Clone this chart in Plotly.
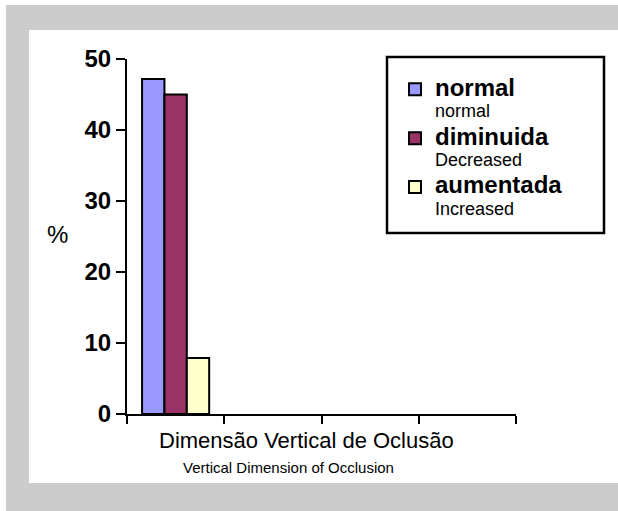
import plotly.graph_objects as go

# Data
series_names = ["normal", "diminuida", "aumentada"]
series_sub = ["normal", "Decreased", "Increased"]
series_values = [47.2, 45.0, 7.9]
series_colors = ["#9999ff", "#993366", "#ffffcc"]
category_index = [0]
y_ticks = [0, 10, 20, 30, 40, 50]
x_title = "Dimensão Vertical de Oclusão"
x_subtitle = "Vertical Dimension of Occlusion"
y_title = "%"

FONT = "Arial, Liberation Sans, sans-serif"

fig = go.Figure()
for i, (n, s, v, c) in enumerate(zip(series_names, series_sub, series_values, series_colors)):
    fig.add_trace(go.Bar(
        x=category_index, y=[v],
        name=(f"<span style='font-size:24px;font-weight:bold'>{n}</span>"
              f"<br><span style='font-size:18px'>{s}</span>"),
        marker=dict(color=c, line=dict(color="black", width=2)),
        legendgroup=f"g{i}",
    ))

W, H = 618, 511
L, R, T, B = 127, 102, 59, 97
pw, ph = W - L - R, H - T - B

def px(xp):
    return (xp - L) / pw

def py(yp):
    return (H - B - yp) / ph

GRAY = "#cccccc"
band = dict(type="rect", xref="paper", yref="paper", fillcolor=GRAY,
            line=dict(width=0), layer="below")
shapes = [
    dict(band, x0=px(6), x1=px(640), y0=py(30), y1=py(5)),      # top band
    dict(band, x0=px(6), x1=px(29), y0=py(483), y1=py(30)),     # left band
    dict(band, x0=px(6), x1=px(640), y0=py(530), y1=py(483)),   # bottom band
    # legend frame
    dict(type="rect", xref="paper", yref="paper", x0=px(387), x1=px(604), y0=py(233), y1=py(57),
         fillcolor="white", line=dict(color="black", width=2.5), layer="below"),
]

annotations = [
    dict(text=x_title, xref="paper", yref="paper", x=px(306), y=py(441), showarrow=False,
         font=dict(family=FONT, size=22, color="black"), xanchor="center", yanchor="middle"),
    dict(text=x_subtitle, xref="paper", yref="paper", x=px(288), y=py(467), showarrow=False,
         font=dict(family=FONT, size=15, color="black"), xanchor="center", yanchor="middle"),
    dict(text=y_title, xref="paper", yref="paper", x=px(57), y=py(234), showarrow=False,
         font=dict(family=FONT, size=24, color="black"), xanchor="center", yanchor="middle"),
]

fig.update_layout(
    width=W, height=H,
    margin=dict(l=L, r=R, t=T, b=B),
    paper_bgcolor="white",
    plot_bgcolor="rgba(0,0,0,0)",
    barmode="group", bargap=0.31, bargroupgap=0,
    shapes=shapes, annotations=annotations,
    font=dict(family=FONT, color="black"),
    showlegend=True,
    legend=dict(
        x=px(395), y=py(72), xanchor="left", yanchor="top",
        bgcolor="rgba(0,0,0,0)", borderwidth=0,
        font=dict(family=FONT, size=16.5, color="black"),
        valign="top", tracegroupgap=3,
    ),
    xaxis=dict(
        range=[-0.5, 3.5], tickvals=[-0.5, 0.5, 1.5, 2.5, 3.5], showticklabels=False,
        ticks="outside", ticklen=8, tickwidth=2, tickcolor="black",
        showline=True, linecolor="black", linewidth=2, showgrid=False, zeroline=False,
    ),
    yaxis=dict(
        range=[0, 50], tickvals=y_ticks, ticks="outside", ticklen=9, tickwidth=2,
        tickcolor="black", showline=True, linecolor="black", linewidth=2,
        showgrid=False, zeroline=False,
        tickfont=dict(family=FONT, size=24, color="black", weight="bold"),
    ),
)

fig.write_html("out.html", config={"displayModeBar": False},
               post_script=("document.documentElement.style.overflow='hidden';"
                            "document.body.style.margin='0';document.body.style.overflow='hidden';"))
